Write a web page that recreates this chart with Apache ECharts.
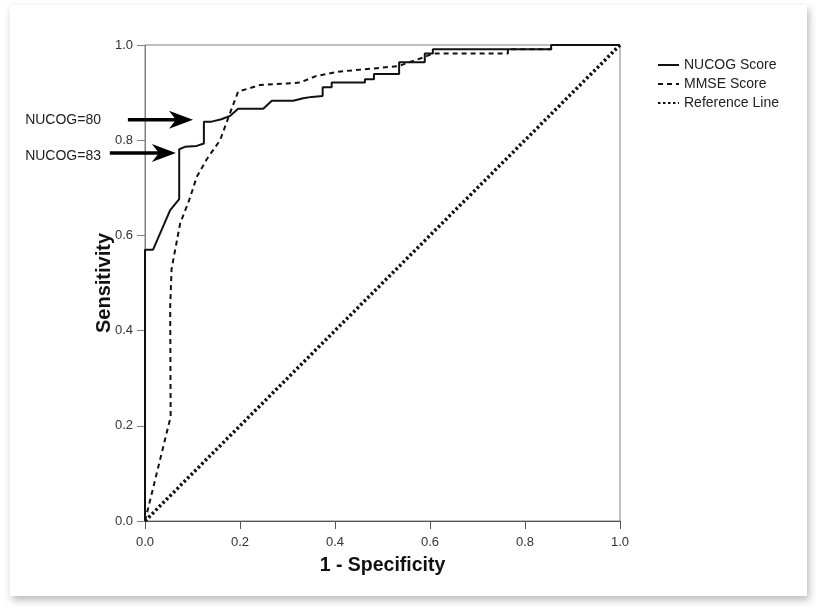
<!DOCTYPE html>
<html>
<head>
<meta charset="UTF-8">
<title>ROC NUCOG / MMSE</title>
<script src="https://cdn.jsdelivr.net/npm/echarts@6/dist/echarts.min.js"></script>
<style>
	html, body { margin: 0; padding: 0; background: #fff; }
	#card {
		position: absolute; left: 10px; top: 5px; width: 797px; height: 591px;
		background: #fff; box-shadow: 2px 4px 8px rgba(0, 0, 0, 0.28);
	}
	#chart { position: absolute; left: 0; top: 0; width: 818px; height: 612px; }
</style>
</head>
<body>
<div id="card"></div>
<div id="chart"></div>
<script>
// tick labels
var ticks = [0, 0.2, 0.4, 0.6, 0.8, 1.0];

// NUCOG Score ROC curve (1 - specificity, sensitivity)
var nucogFpr = [0, 0, 0.017, 0.053, 0.072, 0.072, 0.084, 0.109, 0.124, 0.124, 0.14, 0.161, 0.179, 0.196, 0.249, 0.267, 0.312, 0.333, 0.351, 0.374, 0.374, 0.393, 0.393, 0.463, 0.463, 0.482, 0.482, 0.535, 0.535, 0.589, 0.589, 0.606, 0.606, 0.855, 0.855, 1.0];
var nucogTpr = [0, 0.57, 0.57, 0.653, 0.676, 0.781, 0.786, 0.788, 0.793, 0.839, 0.839, 0.844, 0.851, 0.866, 0.866, 0.883, 0.883, 0.888, 0.891, 0.893, 0.911, 0.911, 0.921, 0.921, 0.928, 0.928, 0.939, 0.939, 0.964, 0.964, 0.982, 0.982, 0.991, 0.991, 1.0, 1.0];

// MMSE Score ROC curve
var mmseFpr = [0, 0.054, 0.053, 0.056, 0.074, 0.093, 0.109, 0.13, 0.158, 0.179, 0.196, 0.242, 0.326, 0.361, 0.407, 0.463, 0.535, 0.56, 0.589, 0.606, 0.764, 0.764, 0.855, 0.855, 1.0];
var mmseTpr = [0, 0.219, 0.45, 0.53, 0.625, 0.674, 0.723, 0.76, 0.8, 0.857, 0.902, 0.916, 0.921, 0.935, 0.944, 0.949, 0.956, 0.965, 0.975, 0.982, 0.982, 0.991, 0.991, 1.0, 1.0];

// reference (chance) line
var refFpr = [0, 1];
var refTpr = [0, 1];

// cut-off annotations: label, arrow tail and tip in data units
var cutLabels = ['NUCOG=80', 'NUCOG=83'];
var cutTail = [[-0.036, 0.843], [-0.074, 0.773]];
var cutTip = [[0.101, 0.843], [0.065, 0.773]];
var cutLabelY = [0.843, 0.766];

function pairs(xs, ys) {
	return xs.map(function(x, i) { return [x, ys[i]]; });
}

var chart = echarts.init(document.getElementById('chart'), null, { renderer: 'canvas' });

var font = '"Liberation Sans", Arial, sans-serif';

var option = {
	animation: false,
	textStyle: { fontFamily: font },
	grid: {
		left: 145, top: 45, right: 198, bottom: 91,
		show: true, borderColor: '#808080', borderWidth: 1, backgroundColor: 'transparent'
	},
	legend: {
		orient: 'vertical',
		left: 652, top: 53,
		itemWidth: 21, itemHeight: 10, itemGap: 5,
		itemStyle: { opacity: 0 },
		textStyle: { fontSize: 14, color: '#222', fontFamily: font },
		data: ['NUCOG Score', 'MMSE Score', 'Reference Line']
	},
	xAxis: {
		type: 'value', min: 0, max: 1, interval: 0.2,
		name: '1 - Specificity', nameLocation: 'middle', nameGap: 35, nameMoveOverlap: false,
		nameTextStyle: { fontSize: 19.5, fontWeight: 'bold', color: '#111', fontFamily: font },
		axisLine: { show: true, lineStyle: { color: '#555', width: 1 } },
		axisTick: { show: true, length: 8, lineStyle: { color: '#555' } },
		axisLabel: { fontSize: 13, color: '#333', margin: 15, formatter: function(v) { return v.toFixed(1); } },
		splitLine: { show: false }
	},
	yAxis: {
		type: 'value', min: 0, max: 1, interval: 0.2,
		name: 'Sensitivity', nameLocation: 'middle', nameGap: 31, nameRotate: 90, nameMoveOverlap: false,
		nameTextStyle: { fontSize: 20, fontWeight: 'bold', color: '#111', fontFamily: font },
		axisLine: { show: true, lineStyle: { color: '#808080', width: 1 } },
		axisTick: { show: true, length: 8, lineStyle: { color: '#808080' } },
		axisLabel: { fontSize: 13, color: '#333', margin: 12, formatter: function(v) { return v.toFixed(1); } },
		splitLine: { show: false }
	},
	series: [
		{
			name: 'NUCOG Score', type: 'line', symbol: 'none', z: 4,
			lineStyle: { color: '#111', width: 2, type: 'solid' },
			itemStyle: { color: '#111' },
			data: pairs(nucogFpr, nucogTpr)
		},
		{
			name: 'MMSE Score', type: 'line', symbol: 'none', z: 3,
			lineStyle: { color: '#111', width: 2, type: [5, 4] },
			itemStyle: { color: '#111' },
			data: pairs(mmseFpr, mmseTpr)
		},
		{
			name: 'Reference Line', type: 'line', symbol: 'none', z: 2,
			lineStyle: { color: '#111', width: 3.5, type: [2.5, 2.5] },
			itemStyle: { color: '#111' },
			data: pairs(refFpr, refTpr)
		}
	]
};

chart.setOption(option);

// arrows + labels for the cut-off points, positioned from data coords
var elements = [];
cutLabels.forEach(function(lbl, i) {
	var a = chart.convertToPixel({ gridIndex: 0 }, cutTail[i]);
	var b = chart.convertToPixel({ gridIndex: 0 }, cutTip[i]);
	var ly = chart.convertToPixel({ gridIndex: 0 }, [0, cutLabelY[i]])[1];
	elements.push({
		type: 'line', z: 10,
		shape: { x1: a[0], y1: a[1], x2: b[0] - 12, y2: b[1] },
		style: { stroke: '#000', lineWidth: 3.5 }
	});
	elements.push({
		type: 'polygon', z: 10,
		shape: { points: [[b[0], b[1]], [b[0] - 24, b[1] - 9], [b[0] - 17, b[1]], [b[0] - 24, b[1] + 9]] },
		style: { fill: '#000' }
	});
	elements.push({
		type: 'text', z: 10,
		x: 101, y: ly,
		style: { text: lbl, fontSize: 14, fontFamily: font, fill: '#222', align: 'right', verticalAlign: 'middle' }
	});
});
chart.setOption({ graphic: elements });
</script>
</body>
</html>
